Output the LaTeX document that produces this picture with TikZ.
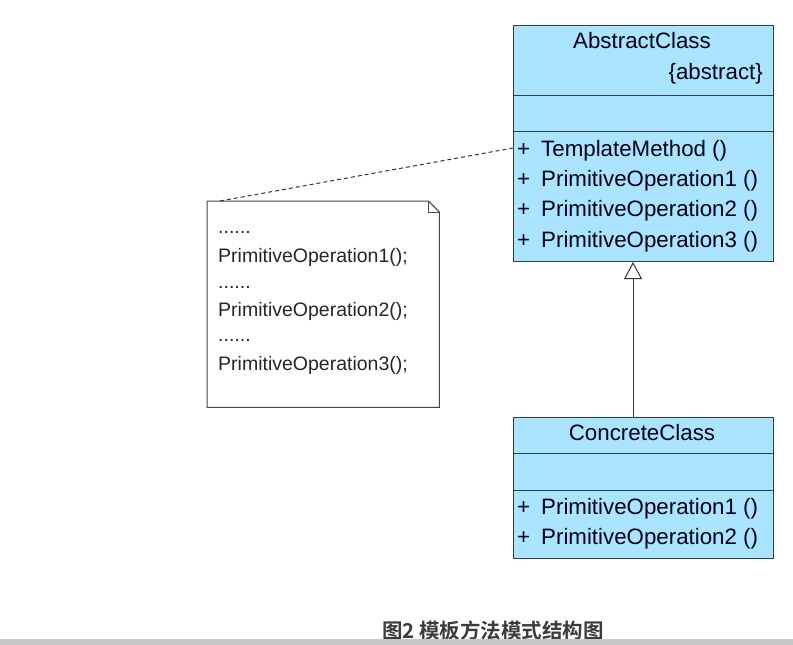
\documentclass[tikz,border=0pt]{standalone}
\usepackage{fontspec}
\setmainfont{Liberation Sans}
\newfontfamily\cjkbold[BoldFont={Noto Sans CJK SC Bold}]{Noto Sans CJK SC}
\usetikzlibrary{arrows.meta}
\definecolor{clsfill}{RGB}{170,228,255}
\definecolor{clsline}{RGB}{44,62,80}
\definecolor{notline}{RGB}{70,70,70}
\definecolor{captxt}{RGB}{60,60,60}
\definecolor{barcol}{RGB}{200,200,200}
\tikzset{
  clsbox/.style={draw=clsline, fill=clsfill, line width=1pt, anchor=north west, inner sep=0pt},
  clstxt/.style={font=\fontsize{22.3}{24}\selectfont, inner sep=0pt, text=black!90!blue},
  optxt/.style={clstxt, anchor=base west},
  notetxt/.style={font=\fontsize{19.5}{22}\selectfont, inner sep=0pt, anchor=base west, text=black!85},
  sepline/.style={draw=clsline, line width=1pt},
  gen/.style={draw=black!80, line width=1pt, -{Triangle[open, length=17pt, width=18pt, fill=white]}},
  notelink/.style={draw=black!80, line width=1pt, dash pattern=on 4pt off 3pt},
}
\begin{document}
\begin{tikzpicture}[x=1pt, y=-1pt]
\useasboundingbox (0,0) rectangle (793,645);
% AbstractClass
\node[clsbox, minimum width=260pt, minimum height=236pt] (abs) at (513,25) {};
\draw[sepline] (513,95) -- (773,95);
\draw[sepline] (513,131) -- (773,131);
\node[clstxt, anchor=base] (absname) at (642,48) {AbstractClass};
\node[clstxt, anchor=base east] (absst) at (763,79) {\{abstract\}};
\node[optxt] (p0) at (517,156) {+};
\node[optxt] (op0) at (541,156) {TemplateMethod ()};
\node[optxt] (p1) at (517,186) {+};
\node[optxt] (op1) at (541,186) {PrimitiveOperation1 ()};
\node[optxt] (p2) at (517,216.5) {+};
\node[optxt] (op2) at (541,216.5) {PrimitiveOperation2 ()};
\node[optxt] (p3) at (517,247) {+};
\node[optxt] (op3) at (541,247) {PrimitiveOperation3 ()};
% ConcreteClass
\node[clsbox, minimum width=260pt, minimum height=141pt] (conc) at (513,417) {};
\draw[sepline] (513,453) -- (773,453);
\draw[sepline] (513,490) -- (773,490);
\node[clstxt, anchor=base] (concname) at (642,440) {ConcreteClass};
\node[optxt] (cp1) at (517,514) {+};
\node[optxt] (cop1) at (541,514) {PrimitiveOperation1 ()};
\node[optxt] (cp2) at (517,544) {+};
\node[optxt] (cop2) at (541,544) {PrimitiveOperation2 ()};
% generalization
\draw[gen] (conc.north -| 633,0) -- (abs.south -| 633,0);
% note
\node[anchor=north west, minimum width=232pt, minimum height=206pt, inner sep=0pt] (note) at (207,201) {};
\draw[draw=notline, fill=white, line width=1pt] (note.north west) -- ([xshift=-11pt]note.north east) -- ([yshift=-11pt]note.north east) -- (note.south east) -- (note.south west) -- cycle;
\draw[draw=notline, line width=1pt] ([xshift=-11pt]note.north east) -- ([xshift=-11pt,yshift=-11pt]note.north east) -- ([yshift=-11pt]note.north east);
\node[notetxt] (n1) at (218,233) {......};
\node[notetxt] (n2) at (218,262) {PrimitiveOperation1();};
\node[notetxt] (n3) at (218,288) {......};
\node[notetxt] (n4) at (218,316) {PrimitiveOperation2();};
\node[notetxt] (n5) at (218,341) {......};
\node[notetxt] (n6) at (218,370) {PrimitiveOperation3();};
\coordinate (tm) at (abs.west |- 0,148);
\draw[notelink] ([xshift=13pt]note.north west) -- (tm);
% caption
\node[font=\cjkbold\bfseries\fontsize{20.5}{22}\selectfont, text=captxt, anchor=base, inner sep=0pt] (cap) at (493,638) {图2 模板方法模式结构图};
\fill[barcol] (0,639) rectangle (793,645);
\end{tikzpicture}
\end{document}
